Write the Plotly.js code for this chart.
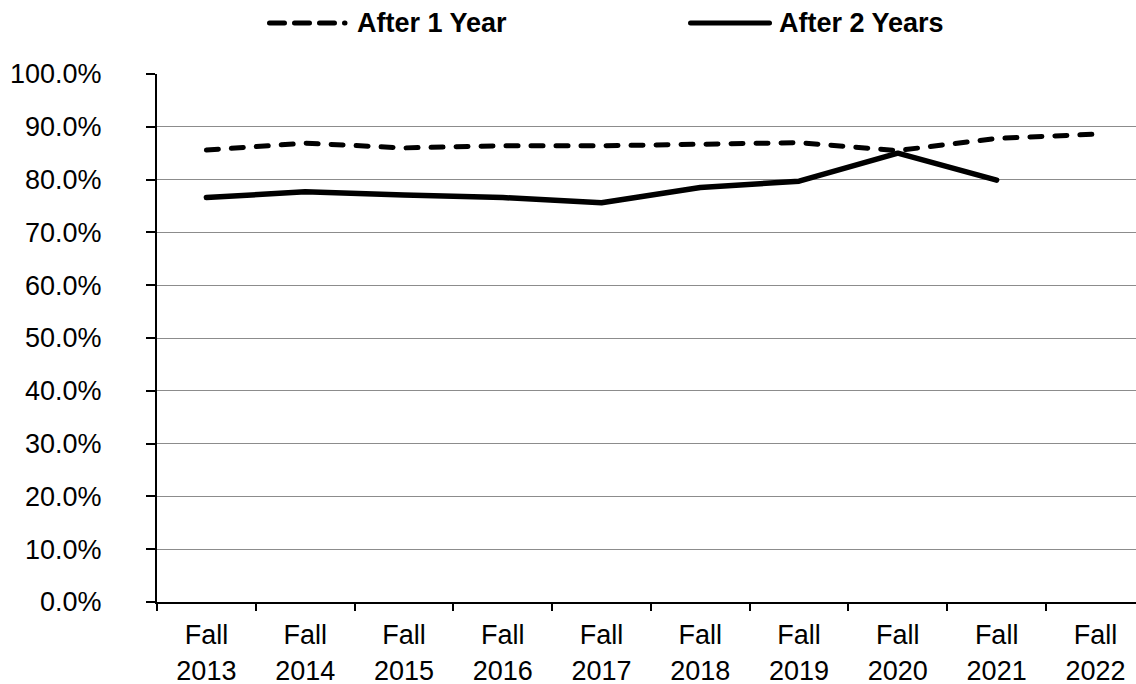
<!DOCTYPE html>
<html>
<head>
<meta charset="utf-8">
<script src="https://cdn.plot.ly/plotly-3.0.1.min.js"></script>
<style>
html,body{margin:0;padding:0;background:#fff;}
#chart{width:1136px;height:684px;}
#chart .scatterlayer path.js-line, #chart .shapelayer path{stroke-linecap:round !important;stroke-linejoin:round !important;}
</style>
</head>
<body>
<div id="chart"></div>
<script>
const categories = ["Fall<br>2013","Fall<br>2014","Fall<br>2015","Fall<br>2016","Fall<br>2017","Fall<br>2018","Fall<br>2019","Fall<br>2020","Fall<br>2021","Fall<br>2022"];
const after1Year = [0.856, 0.869, 0.860, 0.864, 0.864, 0.867, 0.870, 0.855, 0.878, 0.886];
const after2Years = [0.766, 0.777, 0.771, 0.766, 0.756, 0.785, 0.797, 0.850, 0.799, null];
const seriesNames = ["After 1 Year", "After 2 Years"];

const FONT = "Liberation Sans, Arial, sans-serif";
const L = 157, W = 1136, T = 74, B = 82, H = 684;
const plotW = W - L, plotH = H - T - B;
const px2x = p => (p - L) / plotW;
const py2y = p => (H - B - p) / plotH;

const traces = [
  {x: categories, y: after1Year, name: seriesNames[0], type: "scatter", mode: "lines",
   line: {color: "#000", width: 5, dash: "12px,13px"}, connectgaps: false, hoverinfo: "skip"},
  {x: categories, y: after2Years, name: seriesNames[1], type: "scatter", mode: "lines",
   line: {color: "#000", width: 5.5}, connectgaps: false, hoverinfo: "skip"}
];

const legY = py2y(23);
const layout = {
  width: W, height: H,
  margin: {l: L, r: 0, t: T, b: B, pad: 0},
  paper_bgcolor: "#fff", plot_bgcolor: "#fff",
  showlegend: false,
  font: {family: FONT, color: "#000", size: 27},
  xaxis: {
    type: "category",
    range: [-0.5, -0.5 + plotW / 98.78],
    showline: true, linecolor: "#000", linewidth: 2,
    ticks: "outside", ticklen: 7, tickwidth: 2, tickcolor: "#000",
    tickson: "boundaries",
    showgrid: false, zeroline: false,
    tickfont: {family: FONT, size: 27, color: "#000"},
    ticklabelstandoff: 8
  },
  yaxis: {
    range: [0, 1], dtick: 0.1, tick0: 0,
    tickformat: ".1%",
    showline: true, linecolor: "#000", linewidth: 2,
    ticks: "outside", ticklen: 9, tickwidth: 2, tickcolor: "#000",
    showgrid: true, gridcolor: "#8c8c8c", gridwidth: 1,
    zeroline: false,
    tickfont: {family: FONT, size: 27, color: "#000"},
    ticklabelstandoff: 39
  },
  shapes: [
    {type: "line", xref: "paper", yref: "paper", x0: px2x(269.5), x1: px2x(345), y0: legY, y1: legY,
     line: {color: "#000", width: 5, dash: "15px,10px"}},
    {type: "line", xref: "paper", yref: "paper", x0: px2x(690.5), x1: px2x(769.5), y0: legY, y1: legY,
     line: {color: "#000", width: 5}}
  ],
  annotations: [
    {xref: "paper", yref: "paper", x: px2x(355), y: legY, xanchor: "left", yanchor: "middle",
     text: "<b>" + seriesNames[0] + "</b>", showarrow: false, font: {family: FONT, size: 27, color: "#000"}},
    {xref: "paper", yref: "paper", x: px2x(777), y: legY, xanchor: "left", yanchor: "middle",
     text: "<b>" + seriesNames[1] + "</b>", showarrow: false, font: {family: FONT, size: 27, color: "#000"}}
  ]
};

Plotly.newPlot("chart", traces, layout, {staticPlot: true, displayModeBar: false});
</script>
</body>
</html>
